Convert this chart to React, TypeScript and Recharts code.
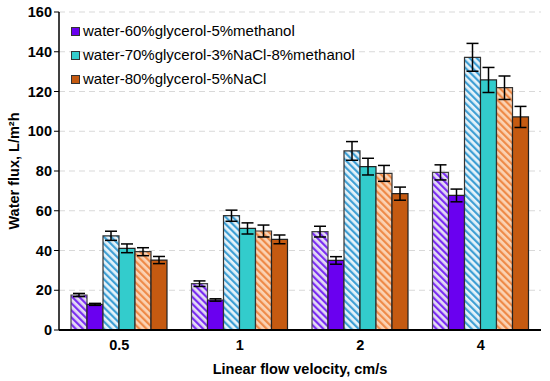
import React from 'react';
import { BarChart, Bar, XAxis, YAxis, CartesianGrid, ErrorBar } from 'recharts';

const categories = ['0.5', '1', '2', '4'];

// water-60%glycerol-5%methanol (hatched / solid)
const glyMethA = [17.6, 23.3, 49.5, 79.3];
const glyMethAErr = [0.8, 1.4, 2.7, 3.8];
const glyMethB = [12.9, 15.1, 35.0, 67.7];
const glyMethBErr = [0.5, 0.6, 1.9, 3.2];

// water-70%glycerol-3%NaCl-8%methanol (hatched / solid)
const naclMethA = [47.4, 57.5, 90.1, 137.2];
const naclMethAErr = [2.3, 2.8, 4.7, 7.0];
const naclMethB = [41.1, 51.1, 82.2, 125.8];
const naclMethBErr = [2.2, 2.8, 4.2, 6.3];

// water-80%glycerol-5%NaCl (hatched / solid)
const naclA = [39.4, 49.8, 78.8, 121.9];
const naclAErr = [2.0, 3.0, 4.0, 5.9];
const naclB = [35.2, 45.6, 68.6, 107.2];
const naclBErr = [1.8, 2.2, 3.3, 5.3];

const yTicks = [0, 20, 40, 60, 80, 100, 120, 140, 160];

const legendNames = [
  'water-60%glycerol-5%methanol',
  'water-70%glycerol-3%NaCl-8%methanol',
  'water-80%glycerol-5%NaCl',
];
const legendColors = ['#6a00f0', '#33cccc', '#c55a11'];

const data = categories.map((c, i) => ({
  cat: c,
  gma: glyMethA[i], gmaE: glyMethAErr[i],
  gmb: glyMethB[i], gmbE: glyMethBErr[i],
  nma: naclMethA[i], nmaE: naclMethAErr[i],
  nmb: naclMethB[i], nmbE: naclMethBErr[i],
  na: naclA[i], naE: naclAErr[i],
  nb: naclB[i], nbE: naclBErr[i],
}));

const FONT = "Arial, 'Liberation Sans', sans-serif";

const LegendBox = () => (
  <div
    style={{
      position: 'absolute',
      left: 71,
      top: 19,
      fontFamily: FONT,
      fontSize: 15,
      color: '#000',
      lineHeight: '24px',
    }}
  >
    {legendNames.map((n, i) => (
      <div key={n} style={{ display: 'flex', alignItems: 'center', height: 24, whiteSpace: 'nowrap' }}>
        <span
          style={{
            display: 'inline-block',
            width: 7,
            height: 7,
            background: legendColors[i],
            border: '1px solid #333',
            marginRight: 3,
          }}
        />
        <span>{n}</span>
      </div>
    ))}
  </div>
);

const errProps = { width: 6, stroke: '#000', strokeWidth: 1.5 };

export default function App() {
  return (
    <div style={{ position: 'absolute', left: 0, top: 0, width: 550, height: 381, background: '#fff' }}>
      <BarChart
        width={550}
        height={381}
        data={data}
        margin={{ top: 12, right: 9, bottom: 0, left: 0 }}
        barCategoryGap={12}
        barGap={0}
      >
        <defs>
          <pattern id="hPurple" width="5" height="5" patternUnits="userSpaceOnUse" patternTransform="rotate(-45)">
            <rect width="5" height="5" fill="#e4dcf4" />
            <rect width="2.2" height="5" fill="#7a2cf2" />
          </pattern>
          <pattern id="hCyan" width="5" height="5" patternUnits="userSpaceOnUse" patternTransform="rotate(-45)">
            <rect width="5" height="5" fill="#e6f3fa" />
            <rect width="2.2" height="5" fill="#3f9fd4" />
          </pattern>
          <pattern id="hOrange" width="5" height="5" patternUnits="userSpaceOnUse" patternTransform="rotate(-45)">
            <rect width="5" height="5" fill="#fbd3b4" />
            <rect width="2.2" height="5" fill="#ee8a48" />
          </pattern>
        </defs>
        <CartesianGrid vertical={false} stroke="#d9d9d9" strokeDasharray="6 4" />
        <XAxis
          dataKey="cat"
          height={51}
          tickLine={false}
          tickMargin={4}
          axisLine={{ stroke: '#000', strokeWidth: 2 }}
          tick={{ fill: '#000', fontSize: 14.5, fontWeight: 'bold', fontFamily: FONT }}
          label={{
            value: 'Linear flow velocity, cm/s',
            position: 'insideBottom',
            offset: 7,
            style: { fill: '#000', fontSize: 14.5, fontWeight: 'bold', fontFamily: FONT },
          }}
        />
        <XAxis
          xAxisId="top"
          dataKey="cat"
          orientation="top"
          height={0}
          tick={false}
          tickLine={false}
          axisLine={{ stroke: '#404040', strokeWidth: 2 }}
        />
        <YAxis
          width={59}
          domain={[0, 160]}
          ticks={yTicks}
          interval={0}
          tickSize={5}
          tickLine={{ stroke: '#000' }}
          axisLine={{ stroke: '#000', strokeWidth: 1.5 }}
          tick={{ fill: '#000', fontSize: 14.5, fontWeight: 'bold', fontFamily: FONT }}
          label={{
            value: 'Water flux, L/m²h',
            angle: -90,
            position: 'insideLeft',
            offset: 14,
            style: { textAnchor: 'middle', fill: '#000', fontSize: 14.5, fontWeight: 'bold', fontFamily: FONT },
          }}
        />
        <YAxis
          yAxisId="right"
          orientation="right"
          width={0}
          domain={[0, 160]}
          tick={false}
          tickLine={false}
          axisLine={{ stroke: '#404040', strokeWidth: 2 }}
        />
        <Bar dataKey="gma" fill="url(#hPurple)" stroke="#444" strokeWidth={1.2} isAnimationActive={false}>
          <ErrorBar dataKey="gmaE" {...errProps} />
        </Bar>
        <Bar dataKey="gmb" fill="#6a00f0" stroke="#222" strokeWidth={1.2} isAnimationActive={false}>
          <ErrorBar dataKey="gmbE" {...errProps} />
        </Bar>
        <Bar dataKey="nma" fill="url(#hCyan)" stroke="#333" strokeWidth={1.2} isAnimationActive={false}>
          <ErrorBar dataKey="nmaE" {...errProps} />
        </Bar>
        <Bar dataKey="nmb" fill="#33cccc" stroke="#222" strokeWidth={1.2} isAnimationActive={false}>
          <ErrorBar dataKey="nmbE" {...errProps} />
        </Bar>
        <Bar dataKey="na" fill="url(#hOrange)" stroke="#333" strokeWidth={1.2} isAnimationActive={false}>
          <ErrorBar dataKey="naE" {...errProps} />
        </Bar>
        <Bar dataKey="nb" fill="#c55a11" stroke="#222" strokeWidth={1.2} isAnimationActive={false}>
          <ErrorBar dataKey="nbE" {...errProps} />
        </Bar>
      </BarChart>
      <LegendBox />
    </div>
  );
}
